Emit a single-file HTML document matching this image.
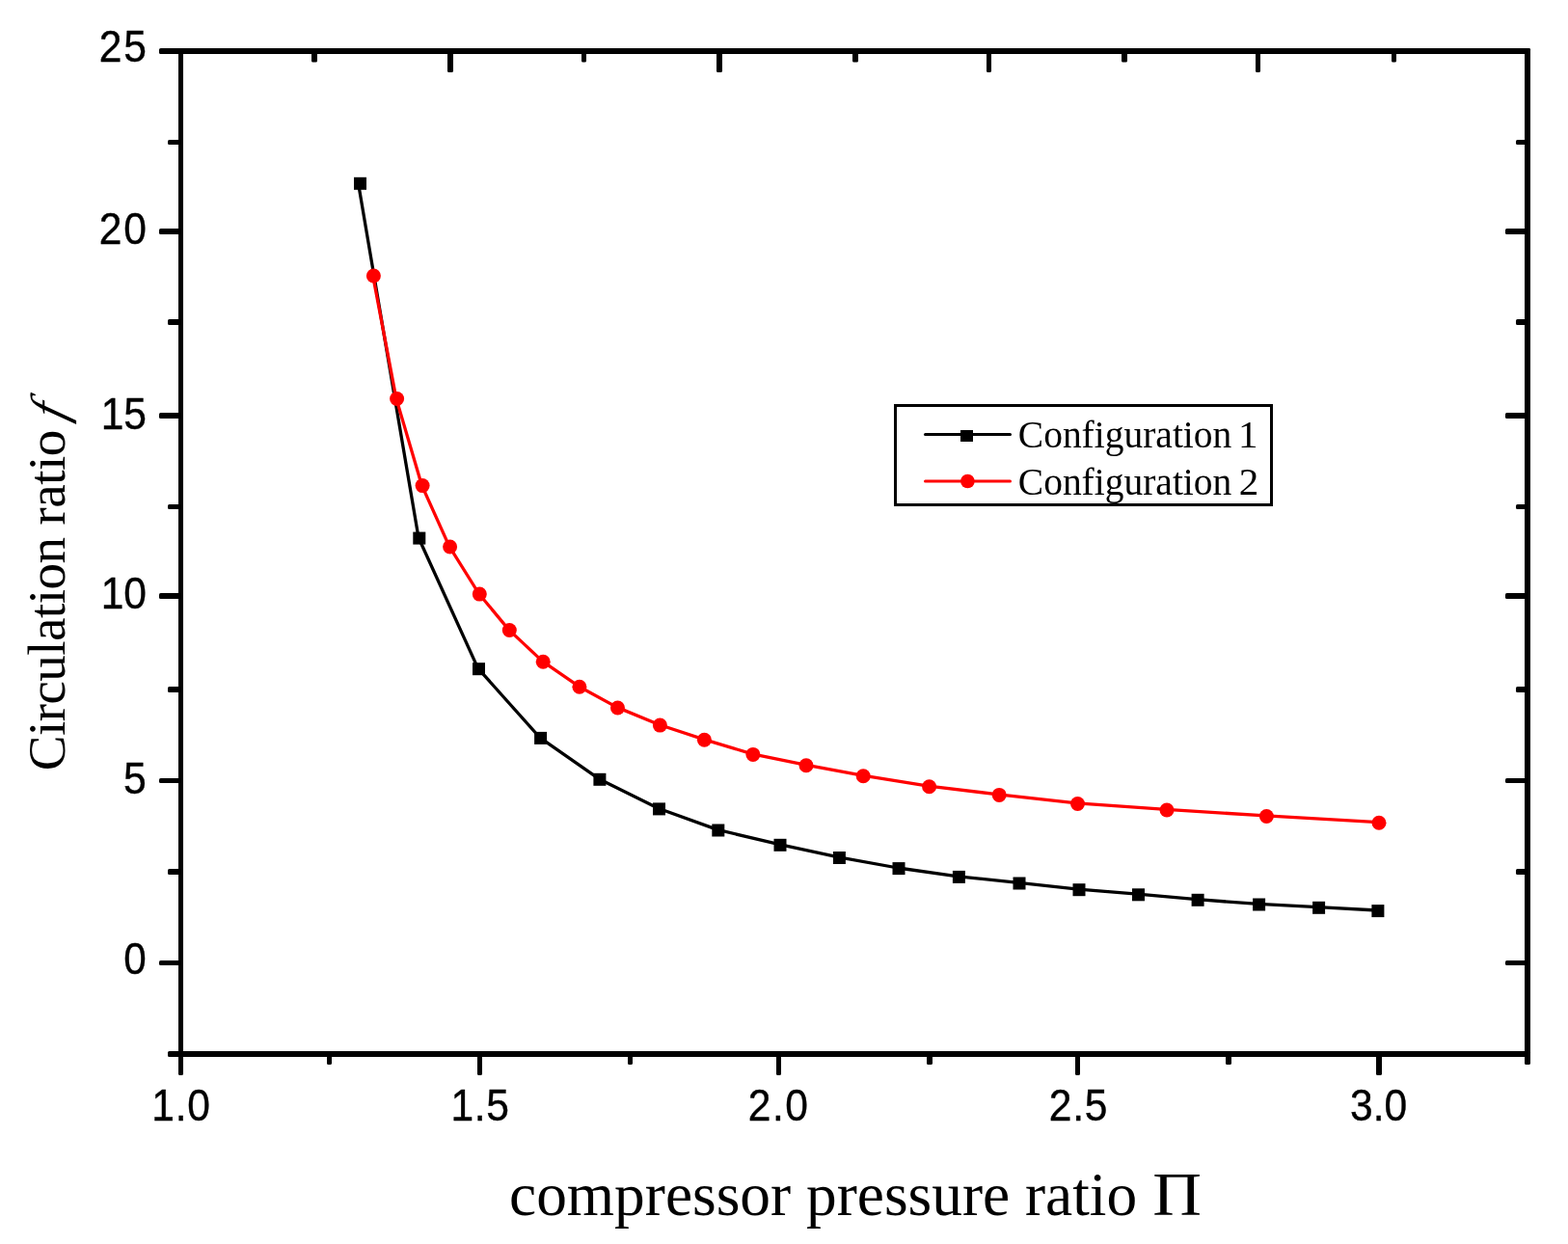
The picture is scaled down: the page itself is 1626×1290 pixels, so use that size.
<!DOCTYPE html>
<html lang="en"><head><meta charset="utf-8"><title>Circulation ratio vs compressor pressure ratio</title>
<style>html,body{margin:0;padding:0;background:#fff}body{width:1626px;height:1290px;overflow:hidden}svg{display:block}.sans{font-family:"Liberation Sans",sans-serif}.serif{font-family:"Liberation Serif",serif}</style></head><body>
<svg width="1626" height="1290" viewBox="0 0 1626 1290" role="img" aria-label="Circulation ratio f versus compressor pressure ratio">
<rect width="1626" height="1290" fill="#fff"/>
<g>
<rect x="165" y="237" width="25" height="6" rx="1.6" fill="#000"/>
<rect x="1561" y="237" width="26" height="6" rx="1.6" fill="#000"/>
<rect x="165" y="428" width="25" height="6" rx="1.6" fill="#000"/>
<rect x="1561" y="428" width="26" height="6" rx="1.6" fill="#000"/>
<rect x="165" y="615" width="25" height="6" rx="1.6" fill="#000"/>
<rect x="1561" y="615" width="26" height="6" rx="1.6" fill="#000"/>
<rect x="165" y="807" width="25" height="5" rx="1.6" fill="#000"/>
<rect x="1561" y="807" width="26" height="5" rx="1.6" fill="#000"/>
<rect x="165" y="996" width="25" height="5" rx="1.6" fill="#000"/>
<rect x="1561" y="996" width="26" height="5" rx="1.6" fill="#000"/>
<rect x="174" y="145" width="16" height="5" rx="1.6" fill="#000"/>
<rect x="1572" y="145" width="15" height="5" rx="1.6" fill="#000"/>
<rect x="174" y="331" width="16" height="6" rx="1.6" fill="#000"/>
<rect x="1572" y="331" width="15" height="6" rx="1.6" fill="#000"/>
<rect x="174" y="523" width="16" height="5" rx="1.6" fill="#000"/>
<rect x="1572" y="523" width="15" height="5" rx="1.6" fill="#000"/>
<rect x="174" y="712" width="16" height="6" rx="1.6" fill="#000"/>
<rect x="1572" y="712" width="15" height="6" rx="1.6" fill="#000"/>
<rect x="174" y="901" width="16" height="6" rx="1.6" fill="#000"/>
<rect x="1572" y="901" width="15" height="6" rx="1.6" fill="#000"/>
<rect x="495" y="1090" width="5" height="25" rx="1.6" fill="#000"/>
<rect x="805" y="1090" width="5" height="25" rx="1.6" fill="#000"/>
<rect x="1115" y="1090" width="5" height="25" rx="1.6" fill="#000"/>
<rect x="1427" y="1090" width="6" height="25" rx="1.6" fill="#000"/>
<rect x="339" y="1090" width="5" height="14" rx="1.6" fill="#000"/>
<rect x="651" y="1090" width="5" height="14" rx="1.6" fill="#000"/>
<rect x="961" y="1090" width="6" height="14" rx="1.6" fill="#000"/>
<rect x="1271" y="1090" width="6" height="14" rx="1.6" fill="#000"/>
<rect x="464" y="50" width="6" height="25" rx="1.6" fill="#000"/>
<rect x="743" y="50" width="6" height="25" rx="1.6" fill="#000"/>
<rect x="1023" y="50" width="5" height="25" rx="1.6" fill="#000"/>
<rect x="1302" y="50" width="5" height="25" rx="1.6" fill="#000"/>
<rect x="323" y="50" width="6" height="14.5" rx="1.6" fill="#000"/>
<rect x="603" y="50" width="5" height="14.5" rx="1.6" fill="#000"/>
<rect x="884" y="50" width="6" height="14.5" rx="1.6" fill="#000"/>
<rect x="1163" y="50" width="6" height="14.5" rx="1.6" fill="#000"/>
<rect x="1443" y="50" width="5" height="14.5" rx="1.6" fill="#000"/>
<rect x="185" y="50" width="5" height="1065" rx="1.6" fill="#000"/>
<rect x="1581" y="50" width="6" height="1054" rx="1.6" fill="#000"/>
<rect x="165" y="50" width="1422" height="6" rx="1.6" fill="#000"/>
<rect x="174" y="1090" width="1413" height="6" rx="1.6" fill="#000"/>
</g>
<g shape-rendering="crispEdges">
<rect x="185" y="52" width="5" height="1060" fill="#000"/>
<rect x="1581" y="52" width="6" height="1049" fill="#000"/>
<rect x="170" y="50" width="1415" height="6" fill="#000"/>
<rect x="178" y="1090" width="1409" height="6" fill="#000"/>
</g>
<polyline fill="none" stroke="#000" stroke-width="3.3" stroke-linejoin="round" transform="translate(-0.8,-0.6)" points="372.3,190.3 434.8,558.1 496.5,693.7 560.6,765.4 621.9,808.3 683.5,838.9 744.8,861 809,876.3 870.4,889.5 932,900.6 994.4,909.4 1057,916 1119,922.7 1180.5,927.8 1242.1,933.3 1305.6,938 1367.6,941.3 1428.9,944.6"/>
<rect x="367" y="183.8" width="13" height="13" fill="#000"/>
<rect x="428.3" y="551.6" width="13" height="13" fill="#000"/>
<rect x="490" y="687.2" width="13" height="13" fill="#000"/>
<rect x="554.1" y="758.9" width="13" height="13" fill="#000"/>
<rect x="615.4" y="801.8" width="13" height="13" fill="#000"/>
<rect x="677" y="832.4" width="13" height="13" fill="#000"/>
<rect x="738.3" y="854.5" width="13" height="13" fill="#000"/>
<rect x="802.5" y="869.8" width="13" height="13" fill="#000"/>
<rect x="863.9" y="883" width="13" height="13" fill="#000"/>
<rect x="925.5" y="894.1" width="13" height="13" fill="#000"/>
<rect x="987.9" y="902.9" width="13" height="13" fill="#000"/>
<rect x="1050.5" y="909.5" width="13" height="13" fill="#000"/>
<rect x="1112.5" y="916.2" width="13" height="13" fill="#000"/>
<rect x="1174" y="921.3" width="13" height="13" fill="#000"/>
<rect x="1235.6" y="926.8" width="13" height="13" fill="#000"/>
<rect x="1299.1" y="931.5" width="13" height="13" fill="#000"/>
<rect x="1361.1" y="934.8" width="13" height="13" fill="#000"/>
<rect x="1422.4" y="938.1" width="13" height="13" fill="#000"/>
<polyline fill="none" stroke="#f00" stroke-width="3.3" stroke-linejoin="round" transform="translate(-0.8,-0.6)" points="387.4,286 411.6,413.5 438.1,503.6 466.6,567 497.3,616.1 528.3,653.5 563.2,686.2 600.9,712.3 640.5,734 684.4,752.1 730.4,767.2 780.9,782.4 836,793.7 895.2,804.7 963.6,815.8 1036.2,824.4 1117.5,833.5 1210,840 1313.4,846.5 1430,853.2"/>
<circle cx="387.4" cy="286" r="7.5" fill="#f00"/>
<circle cx="411.6" cy="413.5" r="7.5" fill="#f00"/>
<circle cx="438.1" cy="503.6" r="7.5" fill="#f00"/>
<circle cx="466.6" cy="567" r="7.5" fill="#f00"/>
<circle cx="497.3" cy="616.1" r="7.5" fill="#f00"/>
<circle cx="528.3" cy="653.5" r="7.5" fill="#f00"/>
<circle cx="563.2" cy="686.2" r="7.5" fill="#f00"/>
<circle cx="600.9" cy="712.3" r="7.5" fill="#f00"/>
<circle cx="640.5" cy="734" r="7.5" fill="#f00"/>
<circle cx="684.4" cy="752.1" r="7.5" fill="#f00"/>
<circle cx="730.4" cy="767.2" r="7.5" fill="#f00"/>
<circle cx="780.9" cy="782.4" r="7.5" fill="#f00"/>
<circle cx="836" cy="793.7" r="7.5" fill="#f00"/>
<circle cx="895.2" cy="804.7" r="7.5" fill="#f00"/>
<circle cx="963.6" cy="815.8" r="7.5" fill="#f00"/>
<circle cx="1036.2" cy="824.4" r="7.5" fill="#f00"/>
<circle cx="1117.5" cy="833.5" r="7.5" fill="#f00"/>
<circle cx="1210" cy="840" r="7.5" fill="#f00"/>
<circle cx="1313.4" cy="846.5" r="7.5" fill="#f00"/>
<circle cx="1430" cy="853.2" r="7.5" fill="#f00"/>
<g class="sans" font-size="46" fill="#000" stroke="#000" stroke-width="0.4">
<text transform="translate(102.72,63.60) scale(0.9250,1)" letter-spacing="1.97">25</text>
<text transform="translate(102.72,252.70) scale(0.9250,1)" letter-spacing="1.97">20</text>
<text transform="translate(104.64,444.70) scale(0.9250,1)" letter-spacing="-0.10">15</text>
<text transform="translate(104.64,630.70) scale(0.9250,1)" letter-spacing="-0.10">10</text>
<text transform="translate(128.04,822.70) scale(0.9287,1)">5</text>
<text transform="translate(128.29,1009.70) scale(0.9182,1)">0</text>
<text transform="translate(157.34,1161.70) scale(0.9250,1)" letter-spacing="0.75">1.0</text>
<text transform="translate(467.54,1161.70) scale(0.9250,1)" letter-spacing="0.66">1.5</text>
<text transform="translate(775.72,1161.70) scale(0.9250,1)" letter-spacing="1.62">2.0</text>
<text transform="translate(1087.82,1161.70) scale(0.9250,1)" letter-spacing="0.72">2.5</text>
<text transform="translate(1400.08,1161.70) scale(0.9250,1)" letter-spacing="-0.03">3.0</text>
</g>
<text class="serif" font-size="64" y="1260" fill="#000"><tspan x="528" textLength="667" lengthAdjust="spacingAndGlyphs">compressor pressure ratio </tspan><tspan x="1195.2" textLength="50.75" lengthAdjust="spacingAndGlyphs">Π</tspan></text>
<text class="serif" font-size="55" fill="#000" transform="translate(67.3,799.2) rotate(-90)" textLength="353.4" lengthAdjust="spacing">Circulation ratio</text>
<text class="serif" font-size="52" font-style="italic" fill="#000" transform="translate(67.5,437.5) rotate(-90) skewX(-16)">f</text>
<rect x="928.5" y="420.5" width="390" height="103" fill="#fff" stroke="#000" stroke-width="3" shape-rendering="crispEdges"/>
<line x1="959.5" y1="450.5" x2="1047.5" y2="450.5" stroke="#000" stroke-width="3" stroke-linecap="round"/>
<rect x="996" y="446" width="13" height="12" fill="#000"/>
<line x1="959.5" y1="499" x2="1047.5" y2="499" stroke="#f00" stroke-width="3" stroke-linecap="round"/>
<circle cx="1003.4" cy="499" r="7.3" fill="#f00"/>
<g class="serif" font-size="41" fill="#000">
<text y="464"><tspan x="1055.8" textLength="231.4" lengthAdjust="spacingAndGlyphs">Configuration </tspan><tspan x="1284">1</tspan></text>
<text y="512.5"><tspan x="1055.8" textLength="231.4" lengthAdjust="spacingAndGlyphs">Configuration </tspan><tspan x="1284.8">2</tspan></text>
</g>
</svg></body></html>
